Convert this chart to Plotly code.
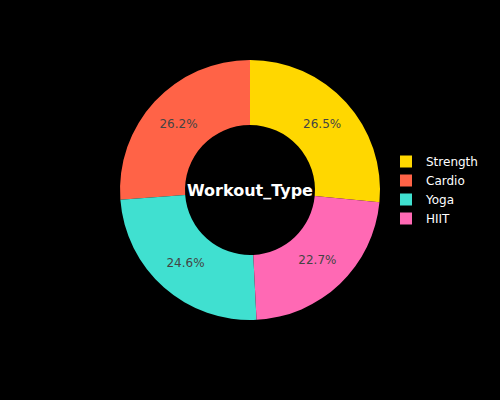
import plotly.graph_objects as go

categories = ["Strength", "Cardio", "Yoga", "HIIT"]
values = [26.5, 26.2, 24.6, 22.7]
colors = ["#FFD700", "#FF6347", "#40E0D0", "#FF69B4"]

fig = go.Figure(go.Pie(
    labels=categories,
    values=values,
    hole=0.5,
    marker=dict(colors=colors),
    textinfo="percent",
    textfont=dict(color="#444444", size=12),
))
fig.update_layout(
    width=500, height=400,
    paper_bgcolor="black", plot_bgcolor="black",
    font=dict(family="DejaVu Sans", color="white"),
    legend=dict(font=dict(color="white", size=12), x=0.9, xanchor="left",
                y=0.5, yanchor="middle"),
    annotations=[dict(text="<b>Workout_Type</b>", x=0.5, y=0.5, xref="paper", yref="paper",
                      showarrow=False, font=dict(size=16, color="white"))],
    margin=dict(t=60, b=80, l=80, r=80, autoexpand=False),
)
fig.write_html("out.html")
